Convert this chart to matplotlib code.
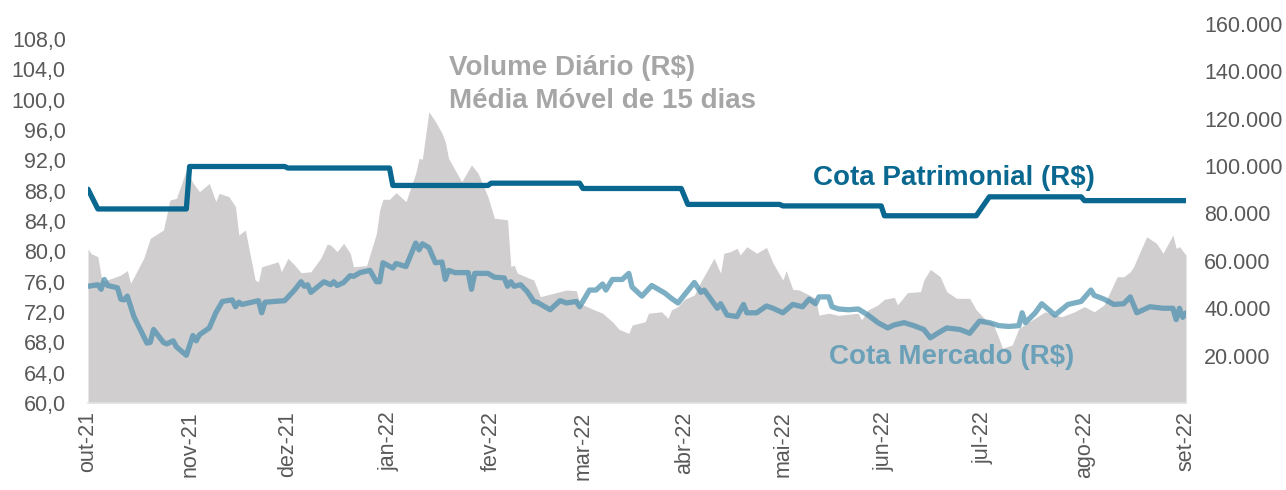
import matplotlib
matplotlib.use("Agg")
import matplotlib.pyplot as plt
import matplotlib.ticker as mticker
import pandas as pd

plt.rcParams['font.family'] = ['Liberation Sans', 'DejaVu Sans']

# rótulos do eixo x (início de cada mês)
meses = ['out-21', 'nov-21', 'dez-21', 'jan-22', 'fev-22', 'mar-22',
         'abr-22', 'mai-22', 'jun-22', 'jul-22', 'ago-22', 'set-22']
inicio_meses = pd.date_range('2021-10-01', '2022-09-01', freq='MS')

# volume diário - média móvel 15 dias (R$)
vol_datas = ['2021-10-01', '2021-10-02', '2021-10-04', '2021-10-05', '2021-10-06', '2021-10-09',
             '2021-10-11', '2021-10-13', '2021-10-14', '2021-10-18', '2021-10-20', '2021-10-24',
             '2021-10-26', '2021-10-28', '2021-10-31', '2021-11-02', '2021-11-04', '2021-11-07',
             '2021-11-09', '2021-11-10', '2021-11-13', '2021-11-15', '2021-11-16', '2021-11-18',
             '2021-11-21', '2021-11-22', '2021-11-23', '2021-11-28', '2021-11-29', '2021-12-01',
             '2021-12-03', '2021-12-05', '2021-12-08', '2021-12-11', '2021-12-13', '2021-12-14',
             '2021-12-16', '2021-12-18', '2021-12-20', '2021-12-21', '2021-12-25', '2021-12-28',
             '2021-12-29', '2021-12-30', '2022-01-01', '2022-01-03', '2022-01-06', '2022-01-09',
             '2022-01-10', '2022-01-11', '2022-01-13', '2022-01-15', '2022-01-17', '2022-01-18',
             '2022-01-19', '2022-01-23', '2022-01-26', '2022-01-28', '2022-01-31', '2022-02-02',
             '2022-02-06', '2022-02-07', '2022-02-08', '2022-02-09', '2022-02-14', '2022-02-16',
             '2022-02-22', '2022-02-24', '2022-02-27', '2022-02-28', '2022-03-04', '2022-03-07',
             '2022-03-10', '2022-03-12', '2022-03-15', '2022-03-16', '2022-03-20', '2022-03-21',
             '2022-03-25', '2022-03-27', '2022-03-28', '2022-03-30', '2022-04-01', '2022-04-04',
             '2022-04-06', '2022-04-08', '2022-04-10', '2022-04-12', '2022-04-13', '2022-04-15',
             '2022-04-17', '2022-04-18', '2022-04-20', '2022-04-23', '2022-04-26', '2022-04-28',
             '2022-05-01', '2022-05-02', '2022-05-04', '2022-05-06', '2022-05-09', '2022-05-11',
             '2022-05-12', '2022-05-15', '2022-05-18', '2022-05-24', '2022-05-25', '2022-05-27',
             '2022-05-30', '2022-06-01', '2022-06-04', '2022-06-05', '2022-06-08', '2022-06-12',
             '2022-06-13', '2022-06-15', '2022-06-18', '2022-06-20', '2022-06-23', '2022-06-27',
             '2022-06-29', '2022-07-02', '2022-07-04', '2022-07-06', '2022-07-07', '2022-07-10',
             '2022-07-12', '2022-07-16', '2022-07-20', '2022-07-25', '2022-07-29', '2022-08-01',
             '2022-08-04', '2022-08-07', '2022-08-11', '2022-08-13', '2022-08-15', '2022-08-16',
             '2022-08-20', '2022-08-23', '2022-08-25', '2022-08-28', '2022-08-29', '2022-08-30',
             '2022-09-01']
vol_mil = [65.0, 63.0, 61.8, 53.5, 51.5, 53.0,
           54.0, 55.9, 50.5, 61.1, 69.5, 73.0,
           85.7, 86.4, 98.4, 93.0, 89.2, 92.7,
           85.0, 88.5, 87.1, 82.9, 70.9, 73.0,
           51.9, 51.2, 57.5, 59.6, 55.4, 61.1,
           58.3, 55.0, 55.4, 61.1, 67.1, 66.7,
           63.9, 67.4, 63.2, 57.5, 58.0, 71.6,
           81.5, 86.0, 86.0, 88.8, 85.0, 97.0,
           103.3, 102.9, 123.0, 118.8, 113.9, 110.3,
           103.3, 93.4, 100.5, 97.0, 87.1, 78.0,
           77.3, 57.5, 58.3, 54.8, 51.9, 44.9,
           47.0, 47.7, 47.4, 42.1, 39.6, 37.9,
           34.3, 31.1, 29.4, 32.9, 34.3, 37.9,
           38.5, 35.7, 39.3, 40.7, 43.8, 45.6,
           51.2, 56.1, 61.1, 54.8, 63.2, 63.9,
           65.3, 62.5, 66.0, 63.2, 65.7, 59.0,
           51.9, 55.9, 48.0, 47.7, 45.6, 44.2,
           37.1, 37.9, 37.0, 37.9, 35.0, 39.3,
           41.4, 43.8, 44.6, 41.4, 46.6, 47.0,
           51.9, 56.4, 53.3, 47.0, 44.2, 44.2,
           39.3, 35.0, 33.9, 27.0, 23.1, 24.5,
           31.5, 35.0, 38.5, 36.4, 38.5, 40.7,
           38.5, 41.4, 53.3, 53.3, 55.4, 57.5,
           70.2, 67.4, 63.2, 70.9, 65.3, 66.0,
           62.5]

# cota de mercado (R$)
merc_datas = ['2021-10-01', '2021-10-04', '2021-10-05', '2021-10-06', '2021-10-07', '2021-10-10',
              '2021-10-11', '2021-10-12', '2021-10-13', '2021-10-15', '2021-10-19', '2021-10-20',
              '2021-10-21', '2021-10-24', '2021-10-25', '2021-10-27', '2021-10-28', '2021-10-31',
              '2021-11-02', '2021-11-03', '2021-11-04', '2021-11-07', '2021-11-09', '2021-11-11',
              '2021-11-14', '2021-11-15', '2021-11-16', '2021-11-17', '2021-11-22', '2021-11-23',
              '2021-11-24', '2021-11-27', '2021-11-30', '2021-12-03', '2021-12-05', '2021-12-06',
              '2021-12-07', '2021-12-08', '2021-12-12', '2021-12-14', '2021-12-15', '2021-12-16',
              '2021-12-18', '2021-12-20', '2021-12-21', '2021-12-23', '2021-12-26', '2021-12-28',
              '2021-12-29', '2021-12-30', '2022-01-02', '2022-01-03', '2022-01-06', '2022-01-09',
              '2022-01-10', '2022-01-11', '2022-01-13', '2022-01-15', '2022-01-17', '2022-01-18',
              '2022-01-19', '2022-01-21', '2022-01-25', '2022-01-26', '2022-01-27', '2022-01-31',
              '2022-02-02', '2022-02-05', '2022-02-06', '2022-02-07', '2022-02-08', '2022-02-10',
              '2022-02-12', '2022-02-14', '2022-02-15', '2022-02-19', '2022-02-22', '2022-02-24',
              '2022-02-27', '2022-02-28', '2022-03-03', '2022-03-05', '2022-03-07', '2022-03-08',
              '2022-03-10', '2022-03-13', '2022-03-15', '2022-03-16', '2022-03-19', '2022-03-22',
              '2022-03-26', '2022-03-28', '2022-03-30', '2022-04-04', '2022-04-06', '2022-04-07',
              '2022-04-11', '2022-04-12', '2022-04-14', '2022-04-17', '2022-04-19', '2022-04-20',
              '2022-04-23', '2022-04-26', '2022-04-28', '2022-05-01', '2022-05-04', '2022-05-07',
              '2022-05-09', '2022-05-11', '2022-05-12', '2022-05-15', '2022-05-16', '2022-05-18',
              '2022-05-21', '2022-05-24', '2022-05-27', '2022-05-30', '2022-06-02', '2022-06-04',
              '2022-06-07', '2022-06-10', '2022-06-13', '2022-06-15', '2022-06-18', '2022-06-20',
              '2022-06-24', '2022-06-27', '2022-06-30', '2022-07-03', '2022-07-06', '2022-07-09',
              '2022-07-12', '2022-07-13', '2022-07-14', '2022-07-17', '2022-07-19', '2022-07-23',
              '2022-07-27', '2022-07-31', '2022-08-03', '2022-08-04', '2022-08-07', '2022-08-10',
              '2022-08-13', '2022-08-15', '2022-08-17', '2022-08-21', '2022-08-25', '2022-08-28',
              '2022-08-29', '2022-08-30', '2022-08-31', '2022-09-01']
cota_mercado = [75.4, 75.6, 75.0, 76.3, 75.5, 75.2,
                73.7, 73.6, 74.1, 71.4, 67.9, 68.0,
                69.7, 68.0, 67.8, 68.2, 67.4, 66.3,
                68.9, 68.2, 69.0, 69.9, 71.9, 73.4,
                73.6, 72.7, 73.3, 73.0, 73.5, 71.9,
                73.3, 73.4, 73.5, 74.9, 76.0, 75.4,
                75.6, 74.6, 76.0, 75.6, 76.0, 75.5,
                75.9, 76.8, 76.7, 77.2, 77.5, 76.0,
                76.0, 78.5, 77.8, 78.4, 78.0, 81.1,
                80.2, 81.0, 80.5, 78.5, 78.6, 76.3,
                77.5, 77.2, 77.2, 75.0, 77.1, 77.1,
                76.6, 76.5, 75.4, 76.0, 75.4, 75.6,
                74.7, 73.4, 73.3, 72.3, 73.5, 73.2,
                73.4, 72.7, 74.9, 74.9, 75.7, 74.9,
                76.3, 76.3, 77.1, 75.3, 74.1, 75.5,
                74.5, 73.8, 73.2, 75.9, 74.6, 74.9,
                72.5, 73.1, 71.6, 71.4, 73.0, 71.9,
                71.9, 72.8, 72.5, 71.9, 73.0, 72.7,
                73.7, 73.1, 74.0, 74.0, 72.7, 72.4,
                72.3, 72.4, 71.6, 70.6, 69.9, 70.3,
                70.6, 70.2, 69.7, 68.6, 69.4, 69.9,
                69.7, 69.2, 70.8, 70.6, 70.2, 70.1,
                70.2, 71.9, 70.6, 71.9, 73.1, 71.6,
                73.0, 73.4, 74.9, 74.2, 73.7, 73.0,
                73.1, 74.0, 71.9, 72.7, 72.5, 72.5,
                71.0, 72.5, 71.3, 71.9]

# cota patrimonial (R$)
patr_datas = ['2021-10-01', '2021-10-04', '2021-10-31', '2021-11-01', '2021-11-30', '2021-12-01',
              '2022-01-01', '2022-01-02', '2022-01-31', '2022-02-01', '2022-02-28', '2022-03-01',
              '2022-03-31', '2022-04-02', '2022-04-30', '2022-05-01', '2022-05-31', '2022-06-01',
              '2022-06-29', '2022-07-03', '2022-07-31', '2022-08-01', '2022-09-01']
cota_patrimonial = [88.2, 85.6, 85.6, 91.2, 91.2, 91.0,
                    91.0, 88.7, 88.7, 89.0, 89.0, 88.3,
                    88.3, 86.2, 86.2, 86.0, 86.0, 84.7,
                    84.7, 87.2, 87.2, 86.7, 86.7]

cinza_txt = '#595959'
azul_escuro = '#0a6890'
azul_claro = '#4a8fae'
cinza_area = '#d0cecf'

fig = plt.figure(figsize=(12.86, 4.90), dpi=100)
ax = fig.add_axes([88 / 1286, 1 - 403 / 490, (1186 - 88) / 1286, (403 - 24) / 490])
ax2 = ax.twinx()

# área de volume no eixo secundário, atrás das linhas
ax2.fill_between(pd.to_datetime(vol_datas), [v * 1000 for v in vol_mil], 0,
                 color=cinza_area, linewidth=0)
ax2.set_ylim(0, 160000)
ax2.set_yticks(range(20000, 160001, 20000))
ax2.yaxis.set_major_formatter(mticker.FuncFormatter(lambda v, p: f'{v:,.0f}'.replace(',', '.')))

ax.set_zorder(ax2.get_zorder() + 1)
ax.patch.set_visible(False)

ax.plot(pd.to_datetime(patr_datas), cota_patrimonial, color=azul_escuro, lw=3.8,
        solid_capstyle='round', solid_joinstyle='round')
ax.plot(pd.to_datetime(merc_datas), cota_mercado, color=azul_claro, lw=3.8, alpha=0.72,
        solid_capstyle='round', solid_joinstyle='round')

ax.set_ylim(60, 110)
ax.set_yticks(range(60, 109, 4))
ax.yaxis.set_major_formatter(mticker.FuncFormatter(lambda v, p: f'{v:.1f}'.replace('.', ',')))

ax.set_xlim(inicio_meses[0], inicio_meses[-1])
ax.set_xticks(inicio_meses)
ax.set_xticklabels(meses, rotation=90, va='top', ha='center')

for a in (ax, ax2):
    for s in a.spines.values():
        s.set_visible(False)
    a.tick_params(length=0, colors=cinza_txt, labelsize=15.5)
ax.tick_params(axis='y', pad=16)
ax2.tick_params(axis='y', pad=13)
ax.tick_params(axis='x', pad=6)
ax2.spines['bottom'].set_visible(True)
ax2.spines['bottom'].set_color('#e3e3e3')
ax2.spines['bottom'].set_linewidth(1.2)

fig.text(449 / 1286, 1 - 68 / 490, 'Volume Diário (R$)', color='#a6a6a6',
         fontsize=20, fontweight='bold', va='center', ha='left')
fig.text(449 / 1286, 1 - 101 / 490, 'Média Móvel de 15 dias', color='#a6a6a6',
         fontsize=20, fontweight='bold', va='center', ha='left')
fig.text(813 / 1286, 1 - 178 / 490, 'Cota Patrimonial (R$)', color=azul_escuro,
         fontsize=20, fontweight='bold', va='center', ha='left')
fig.text(829 / 1286, 1 - 357 / 490, 'Cota Mercado (R$)', color='#6aa0b8',
         fontsize=20, fontweight='bold', va='center', ha='left')

fig.savefig('out.png', dpi=100)
